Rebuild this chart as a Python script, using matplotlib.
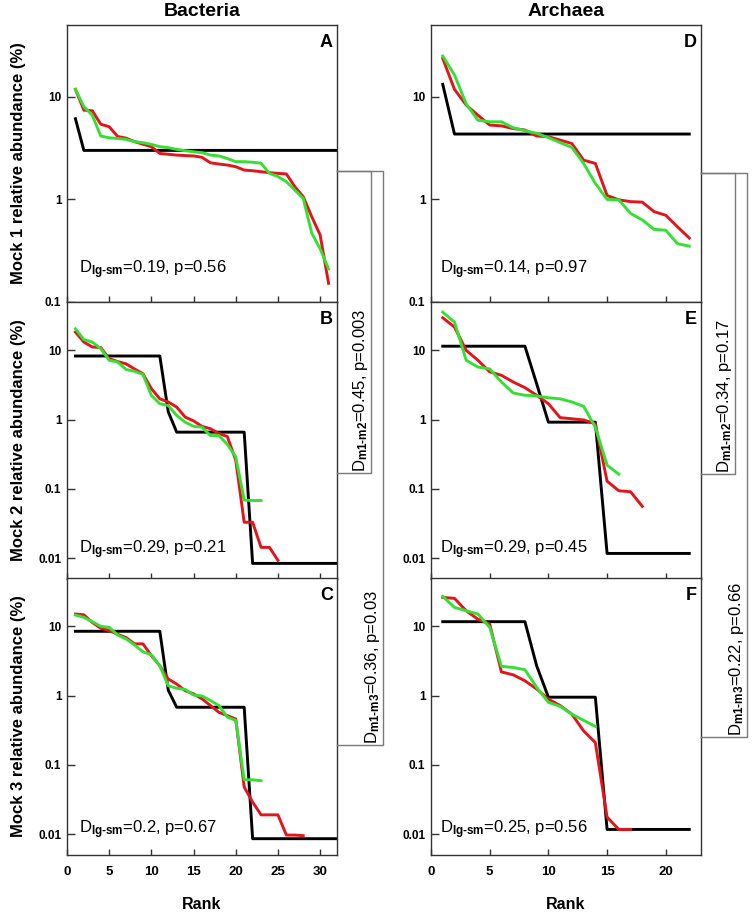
import numpy as np
import matplotlib
matplotlib.use("Agg")
import matplotlib.pyplot as plt
from matplotlib.lines import Line2D
from matplotlib.ticker import NullLocator, FixedLocator, FixedFormatter

plt.rcParams['font.family'] = ['Liberation Sans', 'DejaVu Sans']
plt.rcParams['mathtext.fontset'] = 'custom'
plt.rcParams['mathtext.rm'] = 'Liberation Sans'
plt.rcParams['mathtext.bf'] = 'Liberation Sans:bold'
plt.rcParams['mathtext.it'] = 'Liberation Sans:italic'

# ---- data: rank-abundance (%) ----
# black = expected (mock design), red / green = the two sequencing runs
bac_m1_black = [6.1, 3.0, 3.0, 3.0, 3.0, 3.0, 3.0, 3.0, 3.0, 3.0, 3.0, 3.0, 3.0, 3.0, 3.0, 3.0,
                3.0, 3.0, 3.0, 3.0, 3.0, 3.0, 3.0, 3.0, 3.0, 3.0, 3.0, 3.0, 3.0, 3.0, 3.0, 3.0]
bac_m1_red = [11.8, 7.4, 7.3, 5.4, 5.1, 4.1, 3.95, 3.65, 3.45, 3.26, 2.8, 2.75, 2.7, 2.67, 2.65,
              2.57, 2.27, 2.21, 2.16, 2.08, 1.93, 1.9, 1.86, 1.82, 1.79, 1.77, 1.33, 1.06, 0.68,
              0.45, 0.152]
bac_m1_green = [11.8, 8.0, 6.6, 4.14, 3.98, 3.92, 3.84, 3.65, 3.57, 3.43, 3.26, 3.19, 3.07, 2.98,
                2.91, 2.85, 2.7, 2.65, 2.5, 2.33, 2.33, 2.3, 2.25, 1.79, 1.67, 1.49, 1.23, 1.02,
                0.47, 0.33, 0.21]

bac_m2_black = [8.3, 8.3, 8.3, 8.3, 8.3, 8.3, 8.3, 8.3, 8.3, 8.3, 8.3, 1.3, 0.66, 0.66, 0.66, 0.66,
                0.66, 0.66, 0.66, 0.66, 0.66, 0.0084, 0.0084, 0.0084, 0.0084, 0.0084, 0.0084,
                0.0084, 0.0084, 0.0084, 0.0084, 0.0084]
bac_m2_red = [18.4, 13.2, 11.2, 11.0, 7.6, 6.9, 6.4, 5.4, 4.6, 2.8, 2.0, 1.8, 1.52, 1.09, 0.96,
              0.80, 0.74, 0.63, 0.57, 0.26, 0.033, 0.033, 0.0143, 0.0143, 0.0093]
bac_m2_green = [20.5, 14.3, 13.2, 10.6, 7.2, 6.8, 5.3, 5.0, 4.5, 2.24, 1.7, 1.6, 1.15, 0.92, 0.80,
                0.78, 0.59, 0.59, 0.44, 0.29, 0.069, 0.068, 0.068]

bac_m3_black = [8.5, 8.5, 8.5, 8.5, 8.5, 8.5, 8.5, 8.5, 8.5, 8.5, 8.5, 1.2, 0.68, 0.68, 0.68, 0.68,
                0.68, 0.68, 0.68, 0.68, 0.68, 0.0086, 0.0086, 0.0086, 0.0086, 0.0086, 0.0086,
                0.0086, 0.0086, 0.0086, 0.0086, 0.0086]
bac_m3_red = [15.1, 14.7, 11.4, 9.4, 8.7, 7.7, 6.9, 5.6, 5.6, 3.8, 2.7, 1.74, 1.47, 1.18, 1.06,
              0.90, 0.72, 0.575, 0.515, 0.46, 0.048, 0.029, 0.019, 0.019, 0.019, 0.0097, 0.0097,
              0.0095]
bac_m3_green = [14.6, 13.5, 11.7, 10.0, 9.7, 7.5, 6.6, 5.4, 4.3, 3.9, 2.7, 1.39, 1.28, 1.23, 1.02,
                0.99, 0.85, 0.72, 0.49, 0.44, 0.061, 0.061, 0.059]

arc_m1_black = [13.2, 4.33, 4.33, 4.33, 4.33, 4.33, 4.33, 4.33, 4.33, 4.33, 4.33, 4.33, 4.33,
                4.33, 4.33, 4.33, 4.33, 4.33, 4.33, 4.33, 4.33, 4.33]
arc_m1_red = [23.6, 11.8, 8.3, 6.6, 5.3, 5.2, 4.9, 4.74, 4.14, 4.08, 3.78, 3.5, 2.41, 2.24, 1.09,
              0.99, 0.95, 0.94, 0.76, 0.70, 0.54, 0.42]
arc_m1_green = [24.9, 16.3, 8.5, 5.9, 5.7, 5.7, 4.99, 4.67, 4.4, 4.0, 3.57, 3.21, 2.24, 1.43, 1.0,
                0.99, 0.73, 0.63, 0.51, 0.50, 0.37, 0.35]

arc_m2_black = [11.5, 11.5, 11.5, 11.5, 11.5, 11.5, 11.5, 11.5, 3.3, 0.92, 0.92, 0.92, 0.92, 0.92,
                0.0117, 0.0117, 0.0117, 0.0117, 0.0117, 0.0117, 0.0117, 0.0117]
arc_m2_red = [29.6, 21.7, 10.0, 7.2, 4.9, 4.37, 3.5, 2.9, 2.25, 1.7, 1.07, 1.03, 0.99, 0.87, 0.129,
              0.094, 0.091, 0.056]
arc_m2_green = [35.7, 25.6, 7.2, 5.75, 5.4, 3.5, 2.43, 2.25, 2.2, 2.07, 2.0, 1.8, 1.56, 0.78, 0.22,
                0.163]

arc_m3_black = [11.7, 11.7, 11.7, 11.7, 11.7, 11.7, 11.7, 11.7, 2.7, 0.95, 0.95, 0.95, 0.95, 0.95,
                0.0117, 0.0117, 0.0117, 0.0117, 0.0117, 0.0117, 0.0117, 0.0117]
arc_m3_red = [26.2, 25.4, 16.8, 12.7, 10.8, 2.2, 2.0, 1.64, 1.25, 0.89, 0.72, 0.54, 0.31, 0.21,
              0.0176, 0.0117, 0.0117]
arc_m3_green = [27.1, 18.8, 16.8, 15.1, 9.7, 2.65, 2.55, 2.37, 1.32, 0.80, 0.70, 0.54, 0.44, 0.36]

panel_letters = ['A', 'B', 'C', 'D', 'E', 'F']
ks_labels = ['0.19, p=0.56', '0.29, p=0.21', '0.2, p=0.67',
             '0.14, p=0.97', '0.29, p=0.45', '0.25, p=0.56']
mock_labels = ['Mock 1 relative abundance (%)', 'Mock 2 relative abundance (%)',
               'Mock 3 relative abundance (%)']
pair_labels_bac = ['0.45, p=0.003', '0.36, p=0.03']
pair_labels_arc = ['0.34, p=0.17', '0.22, p=0.66']

series = [
    [(bac_m1_black, bac_m1_red, bac_m1_green),
     (bac_m2_black, bac_m2_red, bac_m2_green),
     (bac_m3_black, bac_m3_red, bac_m3_green)],
    [(arc_m1_black, arc_m1_red, arc_m1_green),
     (arc_m2_black, arc_m2_red, arc_m2_green),
     (arc_m3_black, arc_m3_red, arc_m3_green)],
]

RED = '#e3141b'
GREEN = '#35e035'
BOX = '#7a7a7a'

W, H = 752, 913
fig = plt.figure(figsize=(W / 100, H / 100), dpi=100)

col_left = [67, 431]
row_top = [25, 302, 578]
ax_w, ax_h = 270, 277
xmax = [32, 23]
xtick_sets = [[0, 5, 10, 15, 20, 25, 30], [0, 5, 10, 15, 20]]
ks_y = [0.115, 0.105, 0.09]
ks_x = [0.045, 0.033]

axes = [[None] * 3 for _ in range(2)]
for c in range(2):
    for r in range(3):
        ax = fig.add_axes([col_left[c] / W, 1 - (row_top[r] + ax_h) / H, ax_w / W, ax_h / H])
        axes[c][r] = ax
        black, red, green = series[c][r]
        ax.plot(np.arange(1, len(black) + 1), black, color='black', lw=2.1, zorder=2)
        ax.plot(np.arange(1, len(red) + 1), red, color=RED, lw=2.1, zorder=3)
        ax.plot(np.arange(1, len(green) + 1), green, color=GREEN, lw=2.1, zorder=4)

        ax.set_yscale('log')
        ax.set_xlim(0, xmax[c])
        if r == 0:
            ax.set_ylim(0.1, 50)
            yt = [0.1, 1, 10]
        else:
            ax.set_ylim(0.005, 50)
            yt = [0.01, 0.1, 1, 10]
        ax.yaxis.set_major_locator(FixedLocator(yt))
        ax.yaxis.set_major_formatter(FixedFormatter([('%g' % v) for v in yt]))
        ax.yaxis.set_minor_locator(NullLocator())
        ax.set_xticks(xtick_sets[c])
        ax.tick_params(axis='y', direction='in', length=6, width=1, pad=4,
                       labelsize=8.5, color='#333333')
        ax.tick_params(axis='x', direction='in', length=4, width=1, pad=8,
                       labelsize=9.5, color='#333333', labelbottom=(r == 2))
        for lab in ax.get_xticklabels() + ax.get_yticklabels():
            lab.set_fontweight('bold')
        for sp in ax.spines.values():
            sp.set_color('#333333')
            sp.set_linewidth(1.0)

        ax.text(0.985, 0.937, panel_letters[c * 3 + r], transform=ax.transAxes,
                ha='right', va='center', fontsize=13, fontweight='bold')
        ax.text(ks_x[c], ks_y[r], r'D$_{\mathbf{lg‐sm}}$=' + ks_labels[c * 3 + r],
                transform=ax.transAxes, ha='left', va='center', fontsize=12)

# column titles, axis labels
for c, title in enumerate(['Bacteria', 'Archaea']):
    cx = (col_left[c] + ax_w / 2) / W
    fig.text(cx, 1 - 12 / H, title, ha='center', va='center', fontsize=14, fontweight='bold')
    fig.text(cx, 1 - 904 / H, 'Rank', ha='center', va='center', fontsize=11.5, fontweight='bold')
for r in range(3):
    cy = 1 - (row_top[r] + ax_h / 2) / H
    fig.text(19 / W, cy, mock_labels[r], rotation=90, ha='center', va='center',
             fontsize=12, fontweight='bold')


def pair_box(ax_top, ax_bot, ytop, ybot, dx, tx, label):
    pt = ax_top.get_position()
    pb = ax_bot.get_position()
    x0 = pt.x1
    x1 = x0 + dx / W
    yt = pt.y0 + ytop * pt.height
    yb = pb.y0 + ybot * pb.height
    fig.add_artist(Line2D([x0, x1, x1, x0], [yt, yt, yb, yb], transform=fig.transFigure,
                          color=BOX, lw=1.0))
    fig.text(x0 + tx / W, yb + 1 / H, label, rotation=90, ha='center', va='bottom', fontsize=12)


# KS comparisons between mocks
pair_box(axes[0][0], axes[0][1], 0.474, 0.384, 34, 23, r'D$_{\mathbf{m1‐m2}}$=' + pair_labels_bac[0])
pair_box(axes[0][0], axes[0][2], 0.474, 0.397, 46, 36, r'D$_{\mathbf{m1‐m3}}$=' + pair_labels_bac[1])
pair_box(axes[1][0], axes[1][1], 0.466, 0.379, 34, 23, r'D$_{\mathbf{m1‐m2}}$=' + pair_labels_arc[0])
pair_box(axes[1][0], axes[1][2], 0.466, 0.426, 46, 36, r'D$_{\mathbf{m1‐m3}}$=' + pair_labels_arc[1])

fig.savefig('out.png', dpi=100)
